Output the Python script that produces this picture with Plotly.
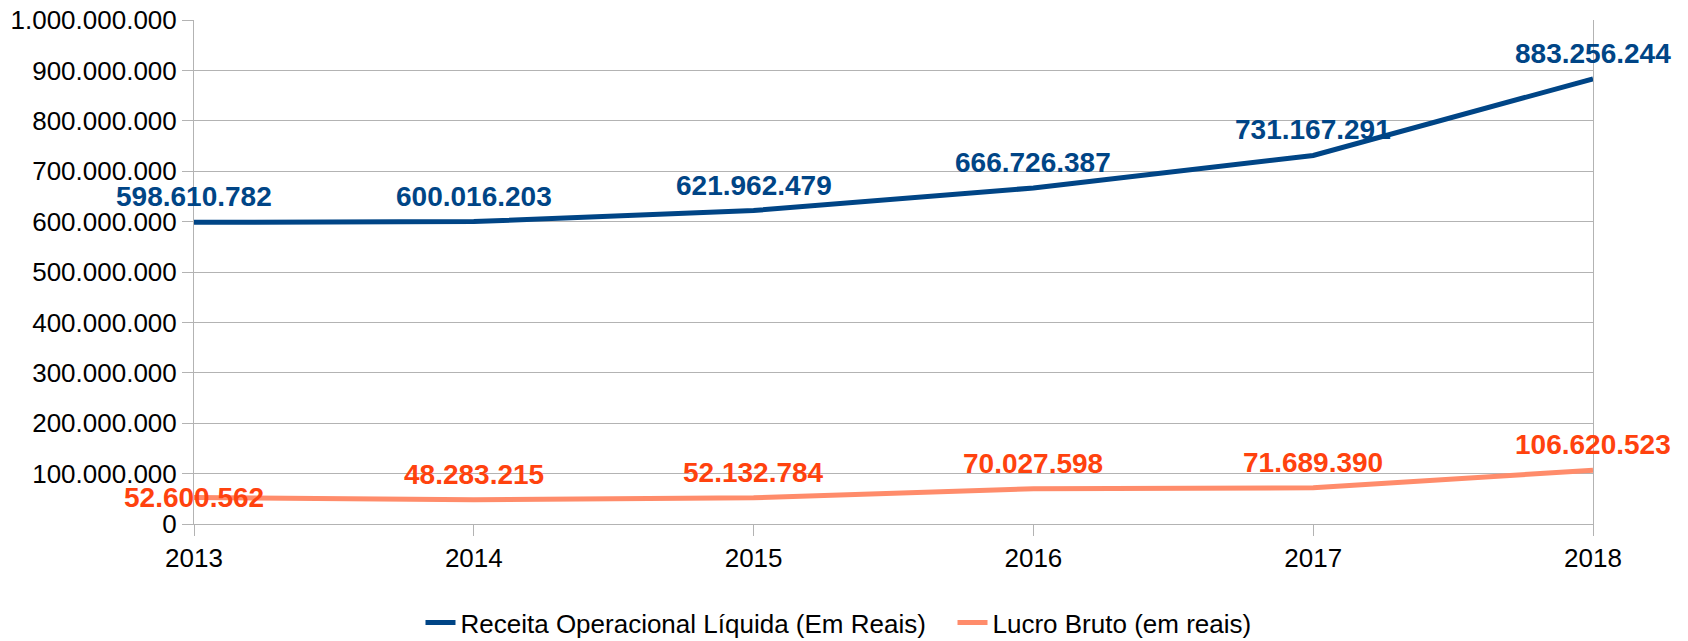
import plotly.graph_objects as go

anos = [2013, 2014, 2015, 2016, 2017, 2018]
receita = [598610782, 600016203, 621962479, 666726387, 731167291, 883256244]
lucro = [52600562, 48283215, 52132784, 70027598, 71689390, 106620523]
y_ticks = list(range(0, 1000000001, 100000000))


def fmt(v):
    return f"{v:,}".replace(",", ".")


azul = "#004586"
laranja_linha = "#ff8c6b"
laranja_texto = "#ff420e"
fonte = "Liberation Sans, Arial, sans-serif"

fig = go.Figure()
fig.add_trace(go.Scatter(x=anos, y=receita, mode="lines",
                         name="Receita Operacional Líquida (Em Reais)\u00a0\u00a0\u00a0",
                         line=dict(color=azul, width=5)))
fig.add_trace(go.Scatter(x=anos, y=lucro, mode="lines", name="Lucro Bruto (em reais)",
                         line=dict(color=laranja_linha, width=5)))

for i, (a, v) in enumerate(zip(anos, receita)):
    fig.add_annotation(x=a, y=v, text=fmt(v), showarrow=False, yanchor="bottom", yshift=8,
                       font=dict(family=fonte, size=28, color=azul, weight="bold"))
for i, (a, v) in enumerate(zip(anos, lucro)):
    centro = i == 0
    fig.add_annotation(x=a, y=v, text=fmt(v), showarrow=False,
                       yanchor="middle" if centro else "bottom", yshift=0 if centro else 8,
                       font=dict(family=fonte, size=28, color=laranja_texto, weight="bold"))

# a pagina tem 8px de margem no body
fig.update_layout(
    width=1688, height=641,
    margin=dict(l=186, r=103, t=12, b=125),
    paper_bgcolor="white", plot_bgcolor="white",
    separators=",.",
    font=dict(family=fonte, size=26, color="black"),
    showlegend=True,
    legend=dict(orientation="h", xref="container", yref="container", x=0.492, y=0.041,
                xanchor="center", yanchor="middle", font=dict(size=26)),
)
fig.update_xaxes(range=[2013, 2018], tickmode="array", tickvals=anos, ticktext=[str(a) for a in anos],
                 showgrid=False, showline=True, linecolor="#b3b3b3", linewidth=1, automargin=False,
                 ticks="outside", ticklen=11, tickcolor="#b3b3b3", zeroline=False,
                 ticklabeloverflow="allow")
fig.update_yaxes(range=[0, 1000000000], tickmode="array", tickvals=y_ticks,
                 ticktext=[fmt(t) for t in y_ticks], automargin=False,
                 showgrid=True, gridcolor="#b3b3b3", gridwidth=1,
                 showline=True, linecolor="#b3b3b3", linewidth=1, mirror=True,
                 ticks="outside", ticklen=11, tickcolor="#b3b3b3", zeroline=False,
                 ticklabeloverflow="allow")

fig.write_html("out.html")
